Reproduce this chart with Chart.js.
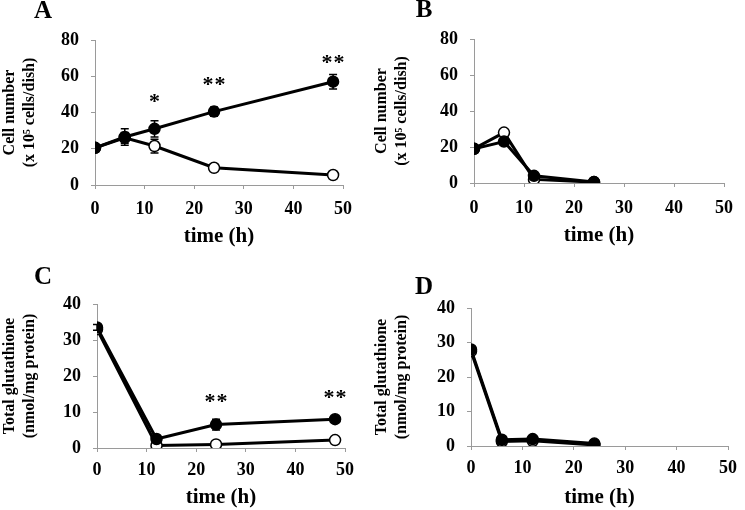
<!DOCTYPE html>
<html>
<head>
<meta charset="utf-8">
<script src="https://cdn.jsdelivr.net/npm/chart.js@4.4.1/dist/chart.umd.min.js"></script>
<style>
  body { margin: 0; background: #fff; }
  #wrap { position: relative; width: 745px; height: 510px; }
  .panel { position: absolute; }
</style>
</head>
<body>
<div id="wrap">
  <div class="panel" style="left:0;top:0;width:372px;height:255px"><canvas id="chartA"></canvas></div>
  <div class="panel" style="left:372px;top:0;width:373px;height:255px"><canvas id="chartB"></canvas></div>
  <div class="panel" style="left:0;top:255px;width:372px;height:255px"><canvas id="chartC"></canvas></div>
  <div class="panel" style="left:372px;top:255px;width:373px;height:255px"><canvas id="chartD"></canvas></div>
</div>
<script>
// ===== Data =====
const timeLong = [0, 6, 12, 24, 48];
const timeC = [0, 12, 24, 48];
const timeShort = [0, 6, 12, 24];

// A: cell number, x 10^5 cells/dish
const cellsAFilled = [20.5, 26.5, 31, 40.5, 57];
const cellsAFilledErr = [0, 4.5, 4.5, 2.5, 4];
const cellsAOpen = [20.5, 26, 21.5, 9.5, 5.5];
const cellsAOpenErr = [0, 3, 3.8, 0, 0];
const starsA = [{ x: 12, y: 48.5, text: '*' }, { x: 24, y: 57.5, text: '**' }, { x: 48, y: 70, text: '**' }];

// B
const cellsBFilled = [19, 23, 4, 0.5];
const cellsBOpen = [19, 28, 2, 0.5];

// C: total glutathione, nmol/mg protein
const gshCFilled = [33.5, 2.5, 6.5, 8];
const gshCFilledErr = [0.8, 0, 1.5, 0];
const gshCOpen = [33, 0.7, 1, 2.2];
const starsC = [{ x: 24, y: 14, text: '**' }, { x: 48, y: 15.3, text: '**' }];

// D
const gshDFilled = [28, 1.8, 2, 0.7];
const gshDOpen = [27.5, 1.3, 1.5, 0.3];

const xTicks = [0, 10, 20, 30, 40, 50];
const cellTitle = ['Cell number', '(x 10\u2075 cells/dish)'];
const gshTitle = ['Total glutathione', '(nmol/mg protein)'];

// ===== Helpers =====
const FONT = 'Liberation Serif';
const AXIS = '#9a9a9a';
Chart.defaults.font.family = FONT;
Chart.defaults.font.weight = 'bold';

function pts(xs, ys) {
  return xs.map((x, i) => ({ x, y: ys[i] }));
}

// error bars, drawn before the lines and markers
const errorBars = {
  id: 'errorBars',
  beforeDatasetsDraw(chart, args, opts) {
    const ctx = chart.ctx;
    const xs = chart.scales.x, ys = chart.scales.y;
    ctx.save();
    ctx.strokeStyle = '#000';
    ctx.lineWidth = 1.5;
    (opts.sets || []).forEach((set) => {
      set.x.forEach((t, i) => {
        const e = set.err[i];
        if (!e) return;
        const px = xs.getPixelForValue(t);
        const top = ys.getPixelForValue(set.y[i] + e);
        const bot = ys.getPixelForValue(set.y[i] - e);
        ctx.beginPath();
        ctx.moveTo(px, top); ctx.lineTo(px, bot);
        ctx.moveTo(px - 4, top); ctx.lineTo(px + 4, top);
        ctx.moveTo(px - 4, bot); ctx.lineTo(px + 4, bot);
        ctx.stroke();
      });
    });
    ctx.restore();
  }
};

// panel letter and significance stars
const labels = {
  id: 'labels',
  afterDraw(chart, args, opts) {
    const ctx = chart.ctx;
    ctx.save();
    ctx.fillStyle = '#000';
    ctx.textAlign = 'center';
    ctx.textBaseline = 'middle';
    ctx.font = `bold 25px "${FONT}"`;
    ctx.fillText(opts.letter, opts.letterX, opts.letterY);
    ctx.font = `bold 22px "${FONT}"`;
    (opts.stars || []).forEach((s) => {
      const px = chart.scales.x.getPixelForValue(s.x);
      const py = chart.scales.y.getPixelForValue(s.y) + 5;
      if (s.text.length === 1) {
        ctx.fillText('*', px, py);
      } else {
        ctx.fillText('*', px - 6, py);
        ctx.fillText('*', px + 6, py);
      }
    });
    ctx.restore();
  }
};

function makePanel(id, cfg) {
  const datasets = [
    {
      data: pts(cfg.x, cfg.filled),
      borderColor: '#000', borderWidth: 3,
      pointRadius: 5.5, pointBackgroundColor: '#000', pointBorderColor: '#000', pointBorderWidth: 1.5,
      tension: 0,
    },
    {
      data: pts(cfg.x, cfg.open),
      borderColor: '#000', borderWidth: 3,
      pointRadius: 5.5, pointBackgroundColor: '#fff', pointBorderColor: '#000', pointBorderWidth: 1.5,
      tension: 0,
    },
  ];
  return new Chart(document.getElementById(id), {
    type: 'line',
    data: { datasets },
    options: {
      responsive: true,
      maintainAspectRatio: false,
      animation: false,
      layout: { padding: { left: 0, right: cfg.padRight, top: cfg.padTop, bottom: 0 } },
      plugins: {
        legend: { display: false },
        tooltip: { enabled: false },
        errorBars: { sets: cfg.errSets },
        labels: { letter: cfg.letter, letterX: cfg.letterX, letterY: cfg.letterY, stars: cfg.stars },
      },
      scales: {
        x: {
          type: 'linear', min: 0, max: 50,
          afterBuildTicks: (s) => { s.ticks = xTicks.map((v) => ({ value: v })); },
          afterFit: (s) => { s.height = cfg.xHeight; },
          grid: { drawOnChartArea: false, drawTicks: true, tickLength: 4, color: AXIS },
          border: { color: AXIS, width: 1 },
          ticks: { color: '#000', font: { size: 18, weight: 'bold' }, padding: cfg.xTickPad, maxRotation: 0 },
          title: {
            display: true, text: 'time (h)', color: '#000',
            font: { size: 21, weight: 'bold' },
            padding: { top: 0, bottom: cfg.xTitlePad },
          },
        },
        y: {
          min: 0, max: cfg.yMax,
          ticks: { stepSize: cfg.yStep, color: '#000', font: { size: 18, weight: 'bold' }, padding: 12 },
          afterFit: (s) => { s.width = cfg.yWidth; },
          grid: { drawOnChartArea: false, drawTicks: true, tickLength: 4, color: AXIS },
          border: { color: AXIS, width: 1 },
          title: {
            display: true, text: cfg.yTitle, color: '#000',
            font: { size: 16, weight: 'bold', lineHeight: 1.25 },
            padding: { top: 0, bottom: 0 },
          },
        },
      },
    },
    plugins: [errorBars, labels],
  });
}

// ===== Panels =====
makePanel('chartA', {
  x: timeLong, filled: cellsAFilled, open: cellsAOpen,
  errSets: [
    { x: timeLong, y: cellsAOpen, err: cellsAOpenErr },
    { x: timeLong, y: cellsAFilled, err: cellsAFilledErr },
  ],
  yMax: 80, yStep: 20, yTitle: cellTitle,
  yWidth: 95, xHeight: 70, padRight: 29, padTop: 40,
  xTickPad: 10, xTitlePad: 6,
  letter: 'A', letterX: 43, letterY: 12, stars: starsA,
});

makePanel('chartB', {
  x: timeShort, filled: cellsBFilled, open: cellsBOpen, errSets: [],
  yMax: 80, yStep: 20, yTitle: cellTitle,
  yWidth: 102, xHeight: 72, padRight: 21, padTop: 39,
  xTickPad: 11, xTitlePad: 7,
  letter: 'B', letterX: 52, letterY: 11, stars: [],
});

makePanel('chartC', {
  x: timeC, filled: gshCFilled, open: gshCOpen,
  errSets: [{ x: timeC, y: gshCFilled, err: gshCFilledErr }],
  yMax: 40, yStep: 10, yTitle: gshTitle,
  yWidth: 97, xHeight: 62, padRight: 27, padTop: 49,
  xTickPad: 8, xTitlePad: 0,
  letter: 'C', letterX: 43, letterY: 23, stars: starsC,
});

makePanel('chartD', {
  x: timeShort, filled: gshDFilled, open: gshDOpen, errSets: [],
  yMax: 40, yStep: 10, yTitle: gshTitle,
  yWidth: 99, xHeight: 64, padRight: 10, padTop: 53,
  xTickPad: 8, xTitlePad: 0,
  letter: 'D', letterX: 52, letterY: 33, stars: [],
});
</script>
</body>
</html>
